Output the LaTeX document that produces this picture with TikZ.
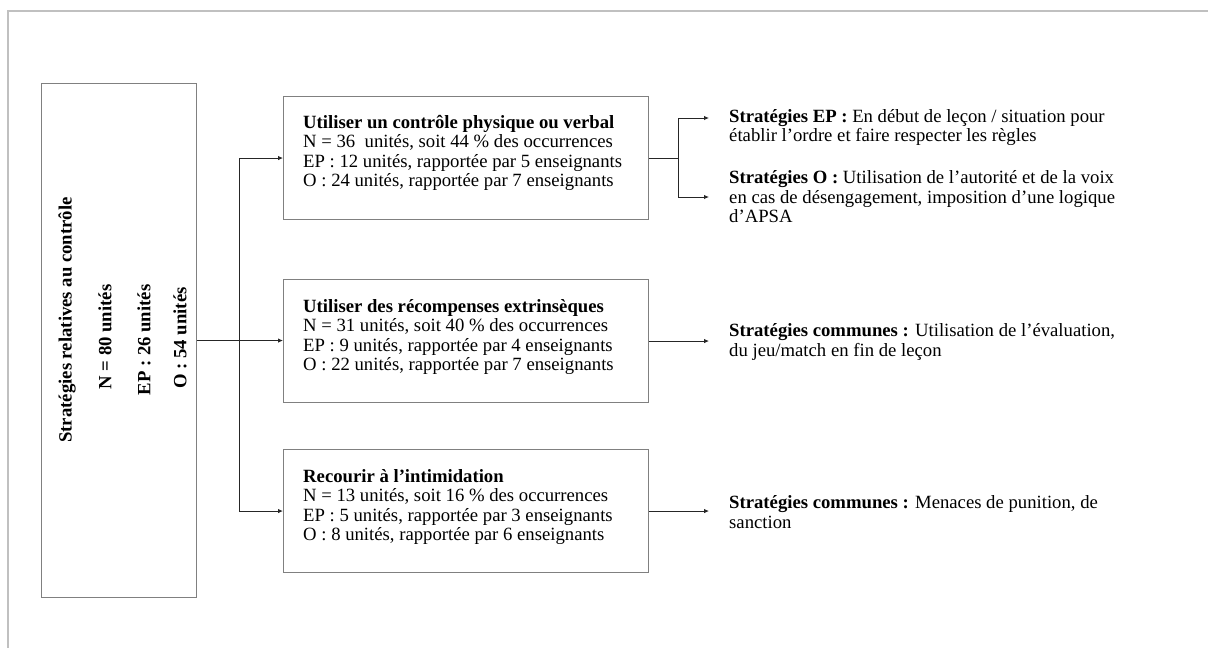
\documentclass[tikz,border=0pt]{standalone}
\usepackage{fontspec}
\setmainfont{Liberation Serif}
\usetikzlibrary{arrows.meta}
\definecolor{framegray}{HTML}{C0C0C0}
\definecolor{boxgray}{HTML}{808080}
\newcommand{\fsz}{\fontsize{18.7pt}{19.5pt}\selectfont}
\begin{document}
\begin{tikzpicture}[x=1pt,y=-1pt,
  frame/.style={draw=framegray, line width=1.4pt},
  rootbox/.style={draw=boxgray, line width=1.1pt, anchor=north west, minimum width=155pt, minimum height=514pt, inner sep=0pt},
  cbox/.style={draw=boxgray, line width=1.1pt, anchor=north west, minimum width=365pt, minimum height=123pt},
  ctxt/.style={font=\fsz, align=left, inner sep=0pt, anchor=west},
  lbl/.style={font=\fsz\bfseries, inner sep=0pt, rotate=90},
  rtxt/.style={font=\fsz, align=left, inner sep=0pt, anchor=west},
  conn/.style={draw=black!85, line width=0.9pt},
  arr/.style={conn, -{Latex[length=5pt,width=4.5pt]}}
]
\useasboundingbox (0,0) rectangle (1208,648);
\draw[frame] (8,648) -- (8,11) -- (1208,11);

% root box
\node[rootbox] (root) at (41,83) {};
\node[lbl] (r1) at (67,320) {Stratégies relatives au contrôle};
\node[lbl] (r2) at (105,337) {N = 80 unités};
\node[lbl] (r3) at (144,340) {EP : 26 unités};
\node[lbl] (r4) at (180,338) {O : 54 unités};

% category boxes
\node[cbox] (b1) at (283,96) {};
\node[cbox] (b2) at (283,279) {};
\node[cbox] (b3) at (283,449) {};
\node[ctxt] (t1) at (303,153) {\textbf{Utiliser un contrôle physique ou verbal}\\
N = 36\ \ unités, soit 44 \% des occurrences\\
EP : 12 unités, rapportée par 5 enseignants\\
O : 24 unités, rapportée par 7 enseignants};
\node[ctxt] (t2) at (303,337) {\textbf{Utiliser des récompenses extrinsèques}\\
N = 31 unités, soit 40 \% des occurrences\\
EP : 9 unités, rapportée par 4 enseignants\\
O : 22 unités, rapportée par 7 enseignants};
\node[ctxt] (t3) at (303,507) {\textbf{Recourir à l’intimidation}\\
N = 13 unités, soit 16 \% des occurrences\\
EP : 5 unités, rapportée par 3 enseignants\\
O : 8 unités, rapportée par 6 enseignants};

% left connectors
\coordinate (j) at (239,341);
\draw[conn] (j |- b1.west) -- (j |- b3.west);
\draw[arr] (j |- b1.west) -- (b1.west);
\draw[arr] (root.east) -- (root.east -| b2.west);
\draw[arr] (j |- b3.west) -- (b3.west);

% right texts
\node[rtxt] (s1) at (729,127.5) {\textbf{Stratégies EP :} En début de leçon / situation pour\\
établir l’ordre et faire respecter les règles};
\node[rtxt] (s2) at (729,197) {\textbf{Stratégies O :} Utilisation de l’autorité et de la voix\\
en cas de désengagement, imposition d’une logique\\
d’APSA};
\node[rtxt] (s3) at (729,342) {\textbf{Stratégies communes :} Utilisation de l’évaluation,\\
du jeu/match en fin de leçon};
\node[rtxt] (s4) at (729,512) {\textbf{Stratégies communes :} Menaces de punition, de\\
sanction};

% right connectors
\coordinate (k) at (678,159);
\coordinate (e1) at (709,118);
\coordinate (e2) at (709,197);
\draw[conn] (b1.east) -- (k |- b1.east);
\draw[conn] (k |- e1) -- (k |- e2);
\draw[arr] (k |- e1) -- (e1);
\draw[arr] (k |- e2) -- (e2);
\draw[arr] (b2.east) -- (b2.east -| e1);
\draw[arr] (b3.east) -- (b3.east -| e1);
\end{tikzpicture}
\end{document}
